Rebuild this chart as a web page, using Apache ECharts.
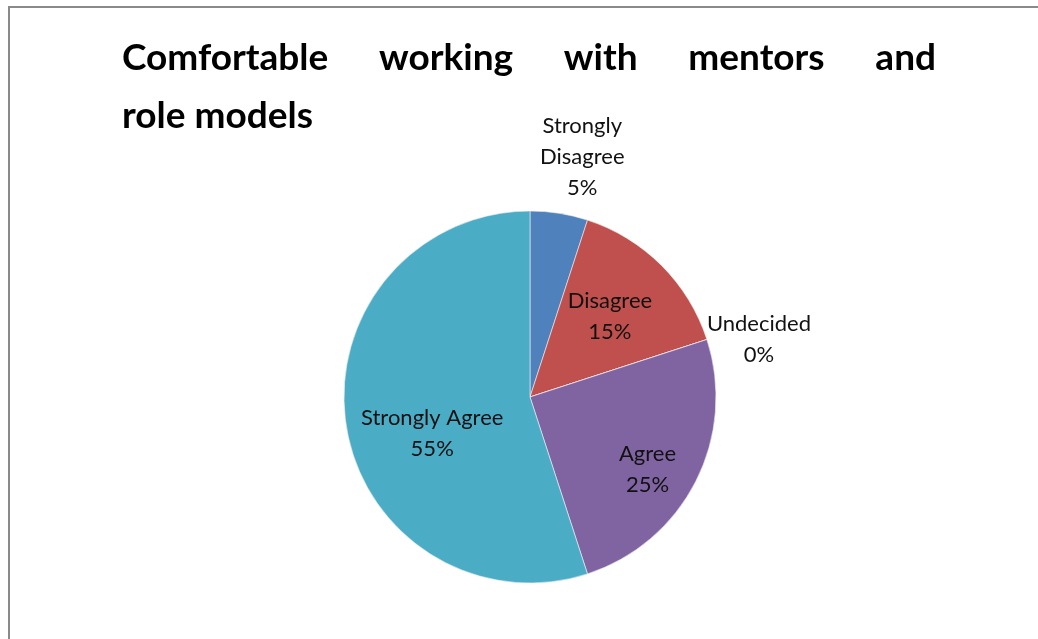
<!DOCTYPE html>
<html>
<head>
<meta charset="utf-8">
<script src="https://cdn.jsdelivr.net/npm/echarts@6.0.0/dist/echarts.min.js"></script>
<style>
html, body { margin: 0; padding: 0; background: #fff; }
#main { width: 1038px; height: 639px; }
</style>
</head>
<body>
<div id="main"></div>
<script>
var categories = ['Strongly Disagree', 'Disagree', 'Undecided', 'Agree', 'Strongly Agree'];
var values = [5, 15, 0, 25, 55];
var colors = ['#4F81BD', '#C0504D', '#9BBB59', '#8064A2', '#4BACC6'];
var titleWords = ['Comfortable', 'working', 'with', 'mentors', 'and'];
var titleLine2 = 'role models';

// which labels sit outside the pie, and small nudges to match the original placement
var outsideLabels = { 'Strongly Disagree': 57, 'Undecided': 0 };
var labelShift = { 'Strongly Disagree': [-28, 0], 'Disagree': [12, -13], 'Agree': [32, 29], 'Strongly Agree': [-3, 21] };

// justify the first title line across the same width as the original
var titleFont = 'Lato';
var titleSize = 37;
var ctx = document.createElement('canvas').getContext('2d');
ctx.font = 'bold ' + titleSize + 'px ' + titleFont;
var used = 0;
titleWords.forEach(function (w) { used += ctx.measureText(w).width; });
var gap = (814 - used) / (titleWords.length - 1);
var titleText = titleWords.map(function (w) { return '{w|' + w + '}'; }).join('{g| }') + '\n{w|' + titleLine2 + '}';

var total = values.reduce(function (a, b) { return a + b; }, 0);

var myChart = echarts.init(document.getElementById('main'));
var option = {
    backgroundColor: '#fff',
    animation: false,
    title: {
        text: titleText,
        left: 122,
        top: 29,
        padding: 0,
        textStyle: {
            rich: {
                w: { fontFamily: titleFont, fontSize: titleSize, fontWeight: 'bold', color: '#000', lineHeight: 58 },
                g: { width: gap, fontSize: titleSize, lineHeight: 58 }
            }
        }
    },
    graphic: [{
        type: 'polyline',
        shape: { points: [[9, 639], [9, 7], [1038, 7]] },
        style: { stroke: '#8a8a8a', lineWidth: 2, fill: null }
    }],
    series: [{
        name: 'Comfortable working with mentors and role models',
        type: 'pie',
        radius: 186,
        center: [530, 397],
        startAngle: 90,
        clockwise: true,
        avoidLabelOverlap: false,
        itemStyle: { borderColor: '#f2f2f2', borderWidth: 0.6 },
        label: {
            position: 'inside',
            formatter: function (p) {
                var pct = Math.round(p.value / total * 100) + '%';
                var name = p.name;
                if (p.name === 'Strongly Disagree') name = 'Strongly\nDisagree';
                return name.split('\n').concat([pct]).map(function (s) { return '{c|' + s + '}'; }).join('\n');
            },
            rich: {
                c: { fontFamily: 'Lato', fontSize: 22, color: '#111', align: 'center', lineHeight: 31 }
            }
        },
        labelLayout: function (p) {
            var s = labelShift[categories[p.dataIndex]];
            return s ? { dx: s[0], dy: s[1] } : {};
        },
        data: categories.map(function (c, i) {
            var item = { name: c, value: values[i], itemStyle: { color: colors[i] } };
            if (c in outsideLabels) {
                item.label = { position: 'outside', distanceToLabelLine: 0 };
                item.labelLine = { show: false, length: outsideLabels[c], length2: 0 };
            }
            return item;
        })
    }]
};
myChart.setOption(option);
</script>
</body>
</html>
